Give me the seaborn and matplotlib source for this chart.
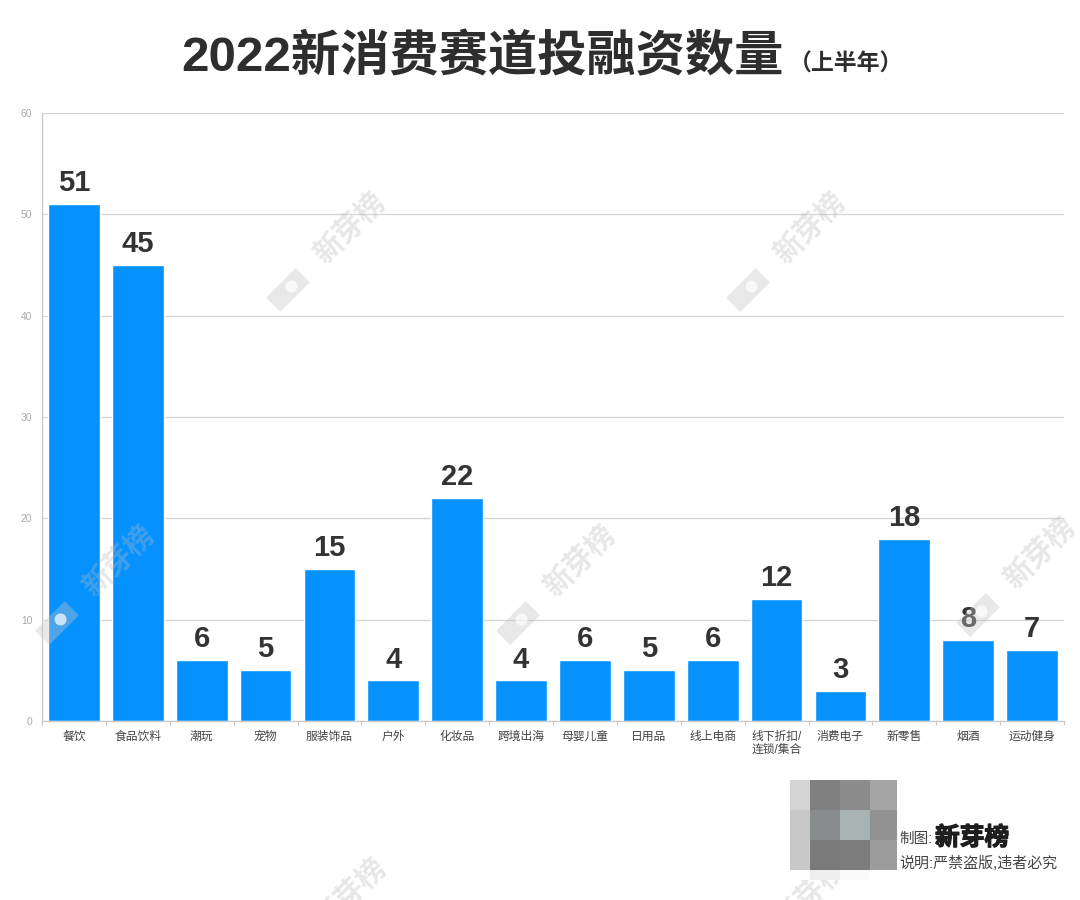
import matplotlib
matplotlib.use("Agg")
import matplotlib.pyplot as plt
import matplotlib.patheffects as pe
from matplotlib.patches import Circle, Rectangle
from matplotlib.transforms import Affine2D
import numpy as np
import pandas as pd
import seaborn as sns

categories = ["餐饮", "食品饮料", "潮玩", "宠物", "服装饰品", "户外", "化妆品", "跨境出海",
              "母婴儿童", "日用品", "线上电商", "线下折扣/\n连锁/集合", "消费电子", "新零售", "烟酒", "运动健身"]
counts = [51, 45, 6, 5, 15, 4, 22, 4, 6, 5, 6, 12, 3, 18, 8, 7]
y_ticks = [0, 10, 20, 30, 40, 50, 60]

# blurred square next to the credit line
mosaic_x = [790, 810, 840, 870, 897]
mosaic_y = [780, 810, 840, 870, 880]
mosaic_red = [[212, 128, 140, 165],
              [200, 136, 168, 146],
              [200, 122, 124, 156],
              [255, 238, 250, 255]]
mosaic_green = [[212, 128, 140, 165],
                [200, 140, 180, 146],
                [200, 122, 124, 156],
                [255, 238, 250, 255]]

# watermark anchor points, in picture pixels
mark_x = [330, 790, 99, 560, 1020, 331, 791]
mark_y = [247, 247, 580, 580, 572, 913, 913]

W, H = 1080, 900
FONTS = ["Liberation Sans", "Noto Sans CJK SC", "DejaVu Sans"]


def px(x, y):
    return x / W, 1 - y / H


def draw_watermark(fig, x, y):
    fig.text(*px(x + 20, y - 19), "新芽榜", fontsize=21, fontweight="bold", color="#b8b8b8",
             alpha=0.33, rotation=45, ha="center", va="center", zorder=3)
    cx, cy = x - 42, H - (y + 43)
    spin = Affine2D().rotate_deg_around(cx, cy, 45)
    fig.add_artist(Rectangle((cx - 21, cy - 10), 42, 20, transform=spin, color="#c4c4c4",
                             alpha=0.38, lw=0, zorder=3))
    fig.add_artist(Circle((cx + 5, cy), 6, transform=spin, color="white", alpha=0.7, lw=0, zorder=3))


def main():
    sns.set_theme(style="whitegrid")
    plt.rcParams["font.family"] = FONTS

    fig = plt.figure(figsize=(W / 100, H / 100), dpi=100)
    ax = fig.add_axes([42 / W, 1 - 721 / H, (1064 - 42) / W, (721 - 113) / H])

    df = pd.DataFrame({"category": categories, "count": counts})
    sns.barplot(data=df, x="category", y="count", color="#0592ff", saturation=1, width=0.81, ax=ax)
    ax.bar_label(ax.containers[0], padding=5, fontsize=21, fontweight="bold", color="#333333")

    ax.set_xlim(-0.5, len(categories) - 0.5)
    ax.set_ylim(0, 60)
    ax.set_yticks(y_ticks)
    ax.set_xlabel("")
    ax.set_ylabel("")
    ax.set_axisbelow(True)
    ax.grid(axis="y", color="#d4d4d4", lw=0.9)
    ax.grid(axis="x", visible=False)
    for side in ["top", "right"]:
        ax.spines[side].set_visible(False)
    for side in ["left", "bottom"]:
        ax.spines[side].set_color("#c8c8c8")
        ax.spines[side].set_linewidth(0.9)

    # ticks sit between the bars, labels under them
    ax.set_xticks(np.arange(len(categories) + 1) - 0.5, minor=True)
    ax.tick_params(axis="x", which="minor", length=3, color="#c8c8c8", width=0.8, bottom=True)
    ax.tick_params(axis="x", which="major", length=0, labelsize=8.5, labelcolor="#444444", pad=7)
    ax.tick_params(axis="y", length=0, labelsize=7.4, labelcolor="#aaaaaa", pad=7)
    for lab in ax.get_xticklabels():
        lab.set_linespacing(1.1)
        lab.set_va("top")

    fig.text(*px(482, 58), "2022新消费赛道投融资数量", fontsize=35.5, fontweight="bold",
             color="#2e2e2e", ha="center", va="center")
    fig.text(*px(846, 64), "（上半年）", fontsize=16.5, fontweight="bold", color="#2e2e2e",
             ha="center", va="center")

    mosaic = fig.add_axes([0, 0, 1, 1], zorder=5)
    mosaic.patch.set_alpha(0)
    mosaic.set_xlim(0, W)
    mosaic.set_ylim(H, 0)
    mosaic.axis("off")
    green = np.array(mosaic_green)
    mosaic_rgb = np.dstack([np.array(mosaic_red), green, green]) / 255
    mosaic.pcolormesh(mosaic_x, mosaic_y, mosaic_rgb)

    fig.text(*px(899, 839), "制图:", fontsize=10.5, color="#444444", ha="left", va="center", zorder=6)
    fig.text(*px(935, 838), "新芽榜", fontsize=17.8, fontweight="bold", color="#1e1e1e", ha="left", va="center",
             path_effects=[pe.withStroke(linewidth=0.9, foreground="#1e1e1e")], zorder=6)
    fig.text(*px(899, 863), "说明:严禁盗版,违者必究", fontsize=10.8, color="#444444", ha="left", va="center", zorder=6)

    for x, y in zip(mark_x, mark_y):
        draw_watermark(fig, x, y)

    fig.savefig("out.png", dpi=100)


if __name__ == "__main__":
    main()
